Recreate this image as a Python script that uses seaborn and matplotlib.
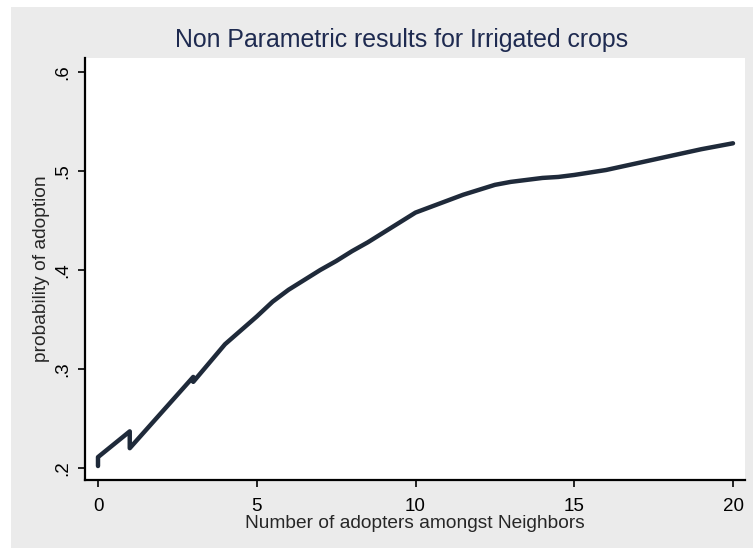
import matplotlib
matplotlib.use("Agg")
import matplotlib.pyplot as plt
import seaborn as sns
import pandas as pd
from matplotlib.patches import Rectangle

# ---- data ----
neighbors = [0, 0, 0.5, 1, 1, 1.5, 2, 2.5, 3, 3, 3.5, 4, 4.5, 5, 5.5, 6, 6.5, 7, 7.5, 8,
             8.5, 9, 9.5, 10, 10.5, 11, 11.5, 12, 12.5, 13, 13.5, 14, 14.5, 15, 16, 17,
             18, 19, 20]
prob = [0.202, 0.211, 0.224, 0.237, 0.220, 0.238, 0.256, 0.274, 0.292, 0.287, 0.306,
        0.325, 0.339, 0.353, 0.368, 0.380, 0.390, 0.400, 0.409, 0.419, 0.428, 0.438,
        0.448, 0.458, 0.464, 0.470, 0.476, 0.481, 0.486, 0.489, 0.491, 0.493, 0.494,
        0.496, 0.501, 0.508, 0.515, 0.522, 0.528]
xticks = [0, 5, 10, 15, 20]
yticks = [0.2, 0.3, 0.4, 0.5, 0.6]
ytick_labels = [".2", ".3", ".4", ".5", ".6"]

title = "Non Parametric results for Irrigated crops"
xlabel = "Number of adopters amongst Neighbors"
ylabel = "probability of adoption"

sns.set_style("white")
plt.rcParams["font.family"] = ["Liberation Sans", "DejaVu Sans"]

W, H = 753, 550
fig = plt.figure(figsize=(W / 100, H / 100), dpi=100, facecolor="white")
# gray graph region (Stata style)
bg = Rectangle((11 / W, 2 / H), (W - 11) / W, (H - 7 - 2) / H,
               transform=fig.transFigure, facecolor="#EBEBEB",
               edgecolor="none", zorder=-10)
fig.patches.append(bg)

ax = fig.add_axes([85 / W, 1 - 480 / H, (745 - 85) / W, (480 - 58) / H])
ax.set_zorder(5)
ax.set_facecolor("white")

df = pd.DataFrame({"x": neighbors, "y": prob})
sns.lineplot(data=df, x="x", y="y", sort=False, estimator=None, ax=ax,
             color="#1f2a3a", linewidth=3.2)

x0 = 98; px_per_unit = (733 - 98) / 20
ax.set_xlim((85 - x0) / px_per_unit, (745 - x0) / px_per_unit)
y_px_02 = 468; px_per_y = (468 - 72) / 0.4
ax.set_ylim(0.2 - (480 - y_px_02) / px_per_y, 0.2 + (y_px_02 - 58) / px_per_y)

ax.set_xticks(xticks)
ax.set_xticklabels([str(t) for t in xticks], fontsize=13.5)
ax.set_yticks(yticks)
ax.set_yticklabels(ytick_labels, fontsize=13.5, rotation=90, va="center")

for s in ["top", "right"]:
    ax.spines[s].set_visible(False)
for s in ["left", "bottom"]:
    ax.spines[s].set_linewidth(1.6)
    ax.spines[s].set_color("black")
ax.tick_params(axis="both", direction="out", length=5, width=1.2, color="black",
               labelcolor="black", pad=5, bottom=True, left=True)
ax.tick_params(axis="x", pad=8)

ax.set_xlabel(xlabel, fontsize=13.8, labelpad=0)
ax.set_ylabel(ylabel, fontsize=13.8, labelpad=3)
fig.text(402 / W, 1 - 40 / H, title, ha="center", va="center",
         fontsize=17.9, color="#1E2A50")

fig.savefig("out.png", dpi=100, facecolor=fig.get_facecolor())
